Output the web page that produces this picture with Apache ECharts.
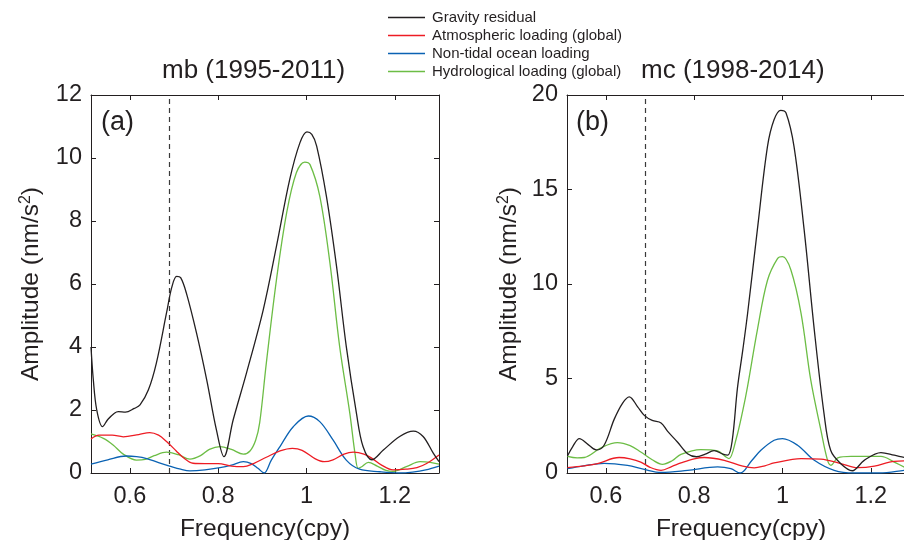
<!DOCTYPE html>
<html>
<head>
<meta charset="utf-8">
<script src="https://cdn.jsdelivr.net/npm/echarts@6/dist/echarts.min.js"></script>
<style>
html,body{margin:0;padding:0;background:#fff;}
#chart{width:904px;height:540px;}
</style>
</head>
<body>
<div id="chart"></div>
<script>
// ---------- data ----------
const seriesNames = ['Gravity residual', 'Atmospheric loading (global)', 'Non-tidal ocean loading', 'Hydrological loading (global)'];
const panelTitles = ['mb (1995-2011)', 'mc (1998-2014)'];
const panelTags = ['(a)', '(b)'];
const xTicks = [0.6, 0.8, 1.0, 1.2];
const xRange = [0.512, 1.3];
const yRangeA = [0, 12, 2];
const yRangeB = [0, 20, 5];
const cutoffFreq = 0.688;

// panel (a) mb
const mbGravity = [[0.512,4.0],[0.517,3.0],[0.525,2.0],[0.538,1.47],[0.55,1.7],[0.565,1.9],[0.574,1.95],[0.59,1.93],[0.61,2.05],[0.623,2.16],[0.642,2.64],[0.66,3.49],[0.683,5.08],[0.695,5.9],[0.706,6.24],[0.715,6.2],[0.728,5.71],[0.751,4.44],[0.774,2.96],[0.796,1.37],[0.813,0.52],[0.834,1.69],[0.864,3.17],[0.902,5.18],[0.932,7.2],[0.962,9.32],[0.985,10.48],[1.001,10.83],[1.012,10.75],[1.023,10.38],[1.045,8.79],[1.068,6.56],[1.09,4.02],[1.113,1.9],[1.128,0.84],[1.148,0.42],[1.174,0.73],[1.211,1.16],[1.242,1.33],[1.264,1.16],[1.287,0.63],[1.3,0.36]];
const mbAtmos = [[0.512,1.08],[0.53,1.2],[0.56,1.2],[0.585,1.15],[0.62,1.22],[0.645,1.28],[0.665,1.2],[0.683,1.0],[0.705,0.7],[0.72,0.5],[0.743,0.31],[0.77,0.3],[0.8,0.3],[0.83,0.22],[0.857,0.2],[0.88,0.3],[0.909,0.5],[0.94,0.7],[0.968,0.78],[0.99,0.72],[1.02,0.45],[1.04,0.36],[1.06,0.42],[1.085,0.6],[1.106,0.66],[1.13,0.6],[1.15,0.45],[1.17,0.25],[1.196,0.1],[1.225,0.12],[1.25,0.17],[1.272,0.3],[1.3,0.57]];
const mbOcean = [[0.512,0.28],[0.55,0.42],[0.592,0.54],[0.615,0.52],[0.638,0.46],[0.665,0.33],[0.69,0.22],[0.715,0.12],[0.736,0.07],[0.77,0.1],[0.804,0.17],[0.83,0.25],[0.857,0.36],[0.875,0.3],[0.89,0.15],[0.904,0.0],[0.92,0.4],[0.94,0.84],[0.97,1.47],[1.004,1.81],[1.03,1.63],[1.06,1.05],[1.09,0.41],[1.12,0.12],[1.166,0.04],[1.211,0.0],[1.24,0.03],[1.27,0.1],[1.3,0.22]];
const mbHydro = [[0.512,1.24],[0.54,1.1],[0.562,0.89],[0.585,0.6],[0.615,0.41],[0.635,0.43],[0.655,0.55],[0.683,0.66],[0.71,0.58],[0.736,0.44],[0.76,0.55],[0.78,0.75],[0.804,0.84],[0.83,0.75],[0.857,0.6],[0.872,0.7],[0.885,1.05],[0.894,1.6],[0.909,3.49],[0.932,6.14],[0.955,8.26],[0.977,9.53],[0.996,9.87],[1.008,9.79],[1.03,8.79],[1.053,6.67],[1.075,4.02],[1.098,1.9],[1.11,0.6],[1.117,0.15],[1.125,0.2],[1.14,0.34],[1.16,0.22],[1.18,0.08],[1.196,0.05],[1.226,0.2],[1.257,0.36],[1.28,0.34],[1.3,0.28]];

// panel (b) mc
const mcGravity = [[0.513,0.9],[0.525,1.4],[0.54,1.82],[0.56,1.5],[0.578,1.22],[0.596,1.47],[0.619,2.85],[0.638,3.7],[0.653,4.03],[0.672,3.5],[0.687,3.05],[0.705,2.78],[0.725,2.65],[0.74,2.2],[0.762,1.64],[0.785,1.02],[0.805,0.86],[0.825,1.0],[0.845,1.18],[0.865,1.0],[0.876,0.95],[0.886,1.7],[0.898,4.5],[0.91,6.5],[0.921,8.45],[0.943,12.86],[0.966,17.28],[0.981,18.7],[0.996,19.19],[1.008,19.05],[1.026,17.28],[1.049,12.86],[1.072,7.56],[1.094,3.14],[1.109,1.2],[1.132,0.49],[1.158,0.12],[1.185,0.67],[1.223,1.08],[1.253,0.94],[1.277,0.82],[1.3,0.72]];
const mcAtmos = [[0.513,0.28],[0.55,0.38],[0.581,0.5],[0.63,0.82],[0.655,0.75],[0.679,0.58],[0.7,0.3],[0.725,0.14],[0.75,0.35],[0.77,0.53],[0.8,0.75],[0.823,0.82],[0.868,0.67],[0.91,0.36],[0.936,0.27],[0.96,0.38],[0.981,0.53],[1.042,0.76],[1.087,0.73],[1.132,0.5],[1.17,0.28],[1.208,0.36],[1.253,0.62],[1.3,0.65]];
const mcOcean = [[0.513,0.23],[0.55,0.38],[0.596,0.51],[0.649,0.4],[0.687,0.19],[0.725,0.03],[0.785,0.14],[0.853,0.32],[0.883,0.23],[0.904,0.0],[0.93,0.65],[0.951,1.2],[0.981,1.73],[1.0,1.82],[1.034,1.47],[1.072,0.67],[1.117,0.14],[1.162,0.0],[1.22,0.0],[1.277,0.14],[1.3,0.2]];
const mcHydro = [[0.513,0.88],[0.535,0.8],[0.551,0.82],[0.59,1.35],[0.626,1.61],[0.655,1.45],[0.679,1.11],[0.705,0.7],[0.728,0.46],[0.75,0.65],[0.77,0.99],[0.815,1.24],[0.853,1.17],[0.872,0.85],[0.879,0.76],[0.895,1.8],[0.91,3.3],[0.921,4.6],[0.943,7.56],[0.966,10.2],[0.989,11.36],[1.0,11.45],[1.019,10.74],[1.042,8.45],[1.064,4.91],[1.087,2.26],[1.102,0.67],[1.11,0.41],[1.125,0.8],[1.155,0.88],[1.223,0.88],[1.253,0.58],[1.277,0.3],[1.3,0.1]];

// ---------- styling ----------
const colors = ['#231f20', '#ed1c24', '#0a62b3', '#6cbd45'];
const FONT = '"Liberation Sans", Arial, Helvetica, sans-serif';
const TXT = '#231f20';

const chart = echarts.init(document.getElementById('chart'), null, {renderer: 'canvas'});

const grids = [
  {left: 91, top: 95, width: 348, height: 378, outerBoundsMode: 'none', containLabel: false},
  {left: 567, top: 95, width: 348, height: 378, outerBoundsMode: 'none', containLabel: false}
];

function xAxes(gi) {
  return [
    {
      type: 'value', gridIndex: gi, min: xRange[0], max: xRange[1], position: 'bottom',
      name: 'Frequency(cpy)', nameLocation: 'middle', nameGap: 44,
      nameTextStyle: {fontFamily: FONT, fontSize: 24.5, color: TXT},
      axisLine: {show: true, onZero: false, lineStyle: {color: TXT, width: 1}},
      axisTick: {show: true, inside: true, length: 5, customValues: xTicks, lineStyle: {color: TXT}},
      axisLabel: {show: true, customValues: xTicks, fontFamily: FONT, fontSize: 23.5, color: TXT, margin: 12,
        formatter: v => (Math.abs(v - 1) < 1e-9 ? '1' : String(+v.toFixed(1)))},
      splitLine: {show: false}
    },
    {
      type: 'value', gridIndex: gi, min: xRange[0], max: xRange[1], position: 'top',
      axisLine: {show: true, onZero: false, lineStyle: {color: TXT, width: 1}},
      axisTick: {show: true, inside: true, length: 5, customValues: xTicks, lineStyle: {color: TXT}},
      axisLabel: {show: false},
      splitLine: {show: false}
    }
  ];
}
function yAxes(gi, rng, nameGap) {
  return [
    {
      type: 'value', gridIndex: gi, min: rng[0], max: rng[1], interval: rng[2], position: 'left',
      name: 'Amplitude (nm/s{sup|2})', nameLocation: 'middle', nameGap: nameGap, nameRotate: 90,
      nameTextStyle: {fontFamily: FONT, fontSize: 24.5, color: TXT,
        rich: {sup: {fontFamily: FONT, fontSize: 16, color: TXT, verticalAlign: 'top', padding: [0, 0, 10, 0]}}},
      axisLine: {show: true, onZero: false, lineStyle: {color: TXT, width: 1}},
      axisTick: {show: true, inside: true, length: 5, lineStyle: {color: TXT}},
      axisLabel: {fontFamily: FONT, fontSize: 23.5, color: TXT, margin: 9},
      splitLine: {show: false}
    },
    {
      type: 'value', gridIndex: gi, min: rng[0], max: rng[1], interval: rng[2], position: 'right',
      axisLine: {show: true, onZero: false, lineStyle: {color: TXT, width: 1}},
      axisTick: {show: true, inside: true, length: 5, lineStyle: {color: TXT}},
      axisLabel: {show: false},
      splitLine: {show: false}
    }
  ];
}

function line(name, data, ci, xi, yi) {
  return {
    type: 'line', name: name, data: data, xAxisIndex: xi, yAxisIndex: yi,
    showSymbol: false, symbol: 'none', smooth: 0.35, clip: true,
    lineStyle: {color: colors[ci], width: 1.3},
    itemStyle: {color: colors[ci]},
    z: 10 - ci
  };
}

const dashMark = {
  silent: true, symbol: ['none', 'none'], label: {show: false},
  lineStyle: {color: '#3a3a3a', type: [5, 4], width: 1.2},
  data: [{xAxis: cutoffFreq}]
};

const panelData = [
  [mbGravity, mbAtmos, mbOcean, mbHydro],
  [mcGravity, mcAtmos, mcOcean, mcHydro]
];

const series = [];
panelData.forEach((arrs, p) => {
  const xi = p * 2, yi = p * 2;
  arrs.forEach((d, i) => {
    const s = line(seriesNames[i], d, i, xi, yi);
    if (i === 0) s.markLine = dashMark;
    series.push(s);
  });
});

const option = {
  backgroundColor: '#ffffff',
  animation: false,
  grid: grids,
  xAxis: [...xAxes(0), ...xAxes(1)],
  yAxis: [...yAxes(0, yRangeA, 47), ...yAxes(1, yRangeB, 45)],
  legend: {
    orient: 'vertical', left: 383, top: 5,
    data: seriesNames,
    icon: 'rect', itemWidth: 37, itemHeight: 1.5, itemGap: 3,
    textStyle: {fontFamily: FONT, fontSize: 15, color: TXT, padding: [0, 0, 0, 2]},
    selectedMode: false
  },
  graphic: [
    {type: 'text', left: 257 - 95, top: 58, style: {text: panelTitles[0], font: '26px ' + FONT, fill: TXT}},
    {type: 'text', left: 736 - 95, top: 58, style: {text: panelTitles[1], font: '26px ' + FONT, fill: TXT}},
    {type: 'text', left: 101, top: 109, style: {text: panelTags[0], font: '27px ' + FONT, fill: TXT}},
    {type: 'text', left: 576, top: 109, style: {text: panelTags[1], font: '27px ' + FONT, fill: TXT}}
  ],
  series: series
};
chart.setOption(option);
</script>
</body>
</html>
